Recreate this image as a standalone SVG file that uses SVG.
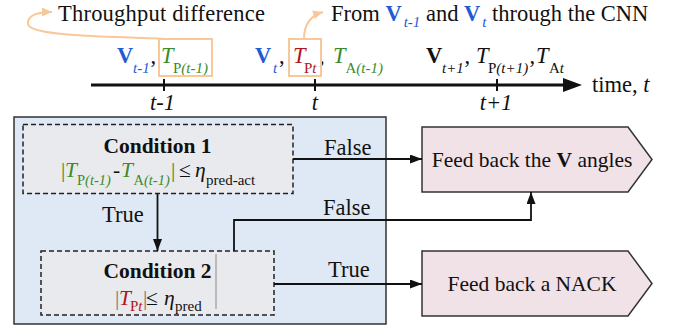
<svg xmlns="http://www.w3.org/2000/svg" width="676" height="329" viewBox="0 0 676 329">
<style>
text{font-family:"Liberation Serif","Times New Roman",serif;fill:#111;}
.s22{font-size:22.5px;}
.s21{font-size:21.5px;}
.b{font-weight:bold;}
.i{font-style:italic;}
.sub{font-size:15px;}
.sub2{font-size:14.5px;}
.blue{fill:#1f5bd1;}
.green{fill:#3d8a2a;}
.red{fill:#b0151c;}
.gray{fill:#777;}
.orange{fill:none;stroke:#f9c89a;stroke-width:2;}
.cond{fill:#e9eaed;stroke:#222;stroke-width:1.5;stroke-dasharray:5 3;}
.out{fill:#f1e2e8;stroke:#333;stroke-width:1.5;}
.conn{fill:none;stroke:#111;stroke-width:1.8;}
</style>
<defs>
<marker id="ah" markerUnits="userSpaceOnUse" markerWidth="13" markerHeight="10" refX="12" refY="4.5" orient="auto">
<path d="M0,0 L12,4.5 L0,9 z" fill="#111"/>
</marker>
<marker id="oh" markerUnits="userSpaceOnUse" markerWidth="12" markerHeight="10" refX="10" refY="4.5" orient="auto">
<path d="M0,0 L10,4.5 L0,9 z" fill="#f9c89a"/>
</marker>
</defs>

<g id="timeline">
<line x1="91" y1="85" x2="565" y2="85" stroke="#111" stroke-width="3"/>
<path d="M563,78 L582,85 L563,92 z" fill="#111"/>
<line x1="164" y1="79" x2="164" y2="91" stroke="#111" stroke-width="2"/>
<line x1="315" y1="79" x2="315" y2="91" stroke="#111" stroke-width="2"/>
<line x1="497" y1="79" x2="497" y2="91" stroke="#111" stroke-width="2"/>
<text x="162.5" y="110" class="s22 i" text-anchor="middle">t-1</text>
<text x="315" y="110" class="s22 i" text-anchor="middle">t</text>
<text x="496" y="110" class="s22 i" text-anchor="middle">t+1</text>
<text x="592" y="92" class="s22">time, <tspan class="i">t</tspan></text>
</g>

<g id="labels-top">
<text x="58" y="21" class="s22" textLength="207">Throughput difference</text>
<text x="331" y="21" class="s22">From <tspan class="b blue">V</tspan><tspan class="i blue sub" dx="2" dy="6">t-1</tspan><tspan dy="-6"> and </tspan><tspan class="b blue">V</tspan><tspan class="i blue sub" dx="2" dy="6">t</tspan><tspan dy="-6"> through the CNN</tspan></text>
</g>

<g id="step-t-1">
<text y="63" class="s22"><tspan x="117" class="b blue">V</tspan><tspan x="133" class="i blue sub" dy="10">t-1</tspan><tspan x="150.5" dy="-10">,</tspan><tspan x="161" class="i green">T</tspan><tspan x="173" class="green sub" dy="10">P</tspan><tspan class="green sub i">(t-1)</tspan></text>
<rect x="159" y="39" width="53" height="37" class="orange"/>
</g>

<g id="step-t">
<text y="63" class="s22"><tspan x="255" class="b blue">V</tspan><tspan x="273" class="i blue sub" dy="10">t</tspan><tspan x="279" dy="-10">,</tspan><tspan x="293" class="i red">T</tspan><tspan x="304" class="red sub" dy="10">P</tspan><tspan class="red sub i">t</tspan><tspan x="319" dy="-10">,</tspan><tspan x="333" class="i green">T</tspan><tspan x="345.5" class="green sub" dy="10">A</tspan><tspan class="green sub i">(t-1)</tspan></text>
<rect x="289" y="39" width="32" height="37" class="orange"/>
</g>

<g id="step-t1">
<text y="63" class="s22"><tspan x="426" class="b">V</tspan><tspan x="442" class="i sub" dy="10">t+1</tspan><tspan x="464.5" dy="-10">,</tspan><tspan x="476" class="i">T</tspan><tspan x="488" class="sub" dy="10">P</tspan><tspan class="sub i">(t+1)</tspan><tspan x="529.5" dy="-10">,</tspan><tspan x="536" class="i">T</tspan><tspan x="549" class="sub" dy="10">A</tspan><tspan class="sub i">t</tspan></text>
</g>

<g id="annotations">
<path d="M165,39 C100,36 30,36 28,24 C27,15 38,12 52,12" class="orange" marker-end="url(#oh)"/>
<path d="M304,39 C304,26 309,16 323,12" class="orange" marker-end="url(#oh)"/>
</g>

<g id="panel">
<rect x="14" y="117" width="372" height="207" fill="#dfe9f5" stroke="#333" stroke-width="1.5"/>
</g>

<g id="condition1">
<rect x="23" y="124.5" width="270" height="69" class="cond"/>
<text x="157.5" y="153" class="s21 b" text-anchor="middle">Condition 1</text>
<text y="177" class="s21"><tspan x="61" class="green">|</tspan><tspan x="65" class="i green">T</tspan><tspan x="77" class="green sub2" dy="8">P</tspan><tspan class="green sub2 i">(t-1)</tspan><tspan x="113" dy="-8">-</tspan><tspan x="121" class="i green">T</tspan><tspan x="133.5" class="green sub2" dy="8">A</tspan><tspan class="green sub2 i">(t-1)</tspan><tspan x="171" class="green" dy="-8">|</tspan><tspan x="179">≤</tspan><tspan x="195" class="i">η</tspan><tspan x="206" class="sub" dy="8">pred-act</tspan></text>
</g>

<g id="condition2">
<rect x="41" y="251" width="233" height="64" class="cond"/>
<line x1="216" y1="254" x2="216" y2="309" stroke="#aaa" stroke-width="1.5"/>
<text x="157.5" y="278" class="s21 b" text-anchor="middle">Condition 2</text>
<text y="305" class="s21"><tspan x="115" class="gray">|</tspan><tspan x="119" class="i red">T</tspan><tspan x="130" class="red sub" dy="6">P</tspan><tspan class="red sub i">t</tspan><tspan x="143" class="gray" dy="-6">|</tspan><tspan x="146">≤</tspan><tspan x="164" class="i">η</tspan><tspan x="175" class="sub" dy="6">pred</tspan></text>
</g>

<g id="out-v">
<polygon points="422,127 628,127 652,159.5 628,192 422,192" class="out"/>
<text x="532" y="167" class="s21" text-anchor="middle">Feed back the <tspan class="b">V</tspan> angles</text>
</g>

<g id="out-nack">
<polygon points="422,251 628,251 652,283.5 628,316 422,316" class="out"/>
<text x="532" y="291" class="s21" text-anchor="middle">Feed back a NACK</text>
</g>

<g id="connectors">
<path d="M293,159 L422,159" class="conn" marker-end="url(#ah)"/>
<path d="M234,251 L234,220 L531,220 L531,192" class="conn" marker-end="url(#ah)"/>
<path d="M157.5,194 L157.5,251" class="conn" marker-end="url(#ah)"/>
<path d="M274,284 L422,284" class="conn" marker-end="url(#ah)"/>
<text x="324" y="155" class="s22">False</text>
<text x="323" y="215" class="s22">False</text>
<text x="102" y="222" class="s22">True</text>
<text x="328" y="277" class="s22">True</text>
</g>
</svg>
